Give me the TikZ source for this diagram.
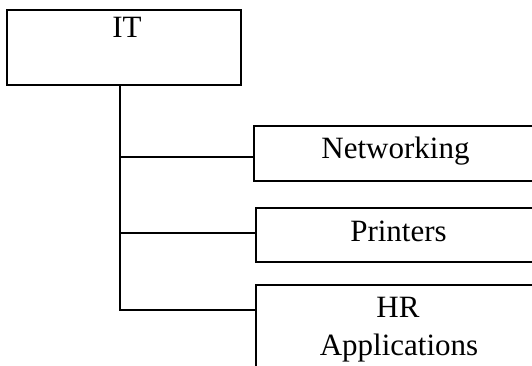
\documentclass[tikz,border=0pt]{standalone}
\usepackage{fontspec}
\setmainfont{Liberation Serif}
\begin{document}
\begin{tikzpicture}[x=1pt,y=-1pt,
  box/.style={draw=black, line width=1.5pt, rectangle, inner sep=0pt},
  lbl/.style={anchor=base, font=\fontsize{31}{36}\selectfont, inner sep=0pt},
  conn/.style={draw=black, line width=1.5pt}]
\useasboundingbox (0,0) rectangle (532,366);
\clip (0,0) rectangle (532,366);
% boxes
\node[box, minimum width=234pt, minimum height=75pt] (it) at (124,47.5) {};
\node[box, minimum width=282pt, minimum height=55pt] (net) at (395,153.5) {};
\node[box, minimum width=280pt, minimum height=54pt] (prn) at (396,235) {};
\node[box, minimum width=280pt, minimum height=110pt] (hr) at (396,340) {};
% labels
\node[lbl] (itl) at (127,38) {IT};
\node[lbl] (netl) at (395.5,158) {Networking};
\node[lbl] (prnl) at (398.5,241) {Printers};
\node[lbl] (hrl) at (398,317) {HR};
\node[lbl] (hrl2) at (399,355) {Applications};
% connectors
\coordinate (t1) at (120,157);
\coordinate (t2) at (120,233);
\coordinate (t3) at (120,310);
\draw[conn] (it.south -| t1) -- (120,310.75);
\draw[conn] (t1) -- (t1 -| net.west);
\draw[conn] (t2) -- (t2 -| prn.west);
\draw[conn] (119.25,310) -- (t3 -| hr.west);
\end{tikzpicture}
\end{document}
